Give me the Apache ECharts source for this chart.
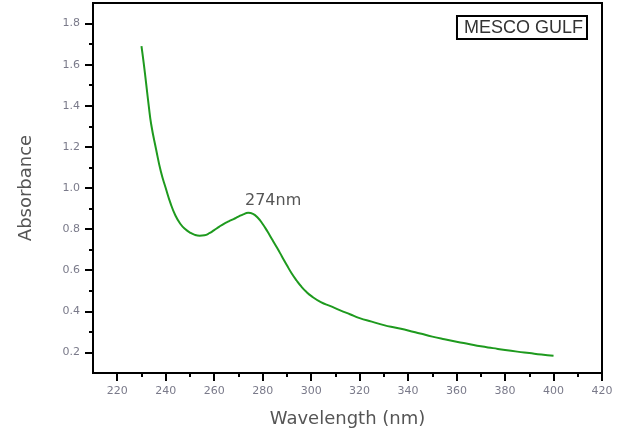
<!DOCTYPE html>
<html>
<head>
<meta charset="utf-8">
<script src="https://cdn.jsdelivr.net/npm/echarts@6/dist/echarts.min.js"></script>
<style>
  html, body { margin: 0; padding: 0; background: #fff; }
  #chart { width: 624px; height: 433px; }
</style>
</head>
<body>
<div id="chart"></div>
<script>
// spectrum
var wavelength = [230, 231, 232, 233, 234, 236, 238, 240, 242, 244, 246, 248, 250, 252, 254, 256, 258, 260,
  262, 264, 266, 268, 270, 272, 274, 276, 278, 280, 282, 284, 286, 288, 290, 292, 294, 296, 298, 300,
  304, 308, 312, 316, 320, 325, 330, 335, 340, 345, 350, 355, 360, 365, 370, 375, 380, 385, 390, 395, 400];
var absorbance = [1.69, 1.60, 1.50, 1.40, 1.31, 1.19, 1.08, 1.00, 0.925, 0.866, 0.826, 0.80, 0.783, 0.772,
  0.768, 0.770, 0.780, 0.795, 0.811, 0.826, 0.838, 0.849, 0.861, 0.872, 0.879, 0.874, 0.855, 0.825, 0.788,
  0.748, 0.708, 0.666, 0.624, 0.584, 0.550, 0.520, 0.495, 0.475, 0.445, 0.425, 0.405, 0.386, 0.367, 0.350,
  0.333, 0.320, 0.307, 0.292, 0.277, 0.264, 0.252, 0.241, 0.230, 0.221, 0.212, 0.204, 0.197, 0.190, 0.184];

var xTicks = [220, 240, 260, 280, 300, 320, 340, 360, 380, 400, 420];
var xMinor = [230, 250, 270, 290, 310, 330, 350, 370, 390, 410];
var yTicks = [0.2, 0.4, 0.6, 0.8, 1.0, 1.2, 1.4, 1.6, 1.8];
var yMinor = [0.3, 0.5, 0.7, 0.9, 1.1, 1.3, 1.5, 1.7];

var peak = [274, 0.879];
var seriesName = 'MESCO GULF';

var chart = echarts.init(document.getElementById('chart'));

var labelStyle = { color: '#7a7a8a', fontSize: 11, fontFamily: 'DejaVu Sans' };

chart.setOption({
  animation: false,
  grid: {
    left: 93, right: 22, top: 3, bottom: 60,
    show: true, borderColor: '#000', borderWidth: 2
  },
  legend: {
    data: [{ name: seriesName, icon: 'none' }],
    right: 37, top: 16,
    itemWidth: 0, itemHeight: 0,
    padding: [3, 4, 2, 2],
    borderColor: '#000', borderWidth: 2,
    textStyle: { color: '#333', fontSize: 18, fontFamily: 'Liberation Sans' }
  },
  xAxis: [
    {
      type: 'value', min: 210, max: 420,
      name: 'Wavelength (nm)', nameLocation: 'middle', nameGap: 37,
      nameTextStyle: { color: '#555', fontSize: 18, fontFamily: 'DejaVu Sans' },
      axisLine: { lineStyle: { color: '#000', width: 2 } },
      axisTick: { inside: false, length: 8, customValues: xTicks, lineStyle: { color: '#000', width: 2 } },
      axisLabel: Object.assign({ margin: 13, customValues: xTicks }, labelStyle),
      splitLine: { show: false }
    },
    {
      type: 'value', min: 210, max: 420, position: 'bottom',
      axisLine: { show: false },
      axisTick: { length: 4, customValues: xMinor, lineStyle: { color: '#000', width: 2 } },
      axisLabel: { show: false },
      splitLine: { show: false }
    }
  ],
  yAxis: [
    {
      type: 'value', min: 0.1, max: 1.9,
      name: 'Absorbance', nameLocation: 'middle', nameGap: 58, nameRotate: 90,
      nameTextStyle: { color: '#555', fontSize: 18, fontFamily: 'DejaVu Sans' },
      axisLine: { show: true, lineStyle: { color: '#000', width: 2 } },
      axisTick: { show: true, length: 8, customValues: yTicks, lineStyle: { color: '#000', width: 2 } },
      axisLabel: Object.assign({ margin: 13, customValues: yTicks, formatter: function (v) { return v.toFixed(1); } }, labelStyle),
      splitLine: { show: false }
    },
    {
      type: 'value', min: 0.1, max: 1.9, position: 'left',
      axisLine: { show: false },
      axisTick: { show: true, length: 4, customValues: yMinor, lineStyle: { color: '#000', width: 2 } },
      axisLabel: { show: false },
      splitLine: { show: false }
    }
  ],
  series: [{
    name: seriesName,
    type: 'line',
    smooth: true,
    showSymbol: false,
    data: wavelength.map(function (w, i) { return [w, absorbance[i]]; }),
    lineStyle: { color: '#1e9a1e', width: 2 },
    itemStyle: { color: '#1e9a1e' },
    markPoint: {
      symbol: 'circle', symbolSize: 0,
      data: [{ coord: peak }],
      label: {
        show: true, position: 'top', distance: 4, offset: [25, 0],
        formatter: '274nm',
        color: '#555', fontSize: 16, fontFamily: 'DejaVu Sans'
      }
    }
  }]
});
</script>
</body>
</html>
